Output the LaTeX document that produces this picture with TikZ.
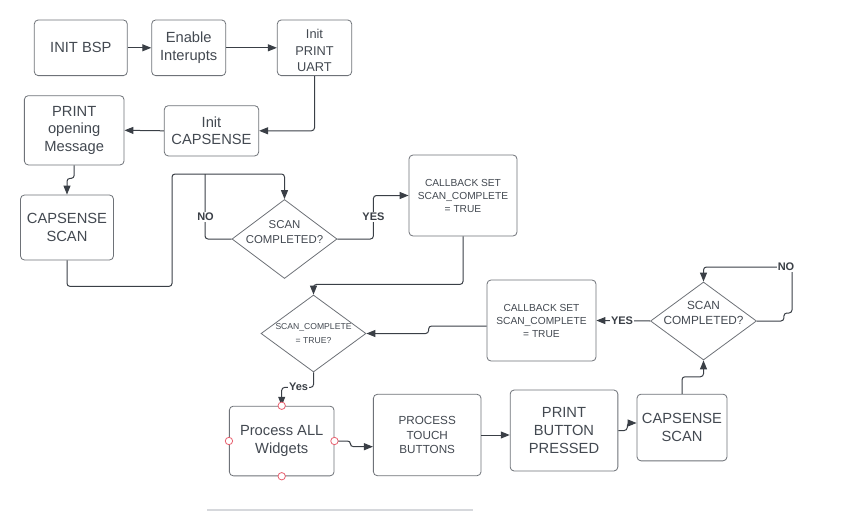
\documentclass[tikz,border=0pt]{standalone}
\usepackage{fontspec}
\setmainfont{Liberation Sans}
\usetikzlibrary{arrows.meta,shapes.geometric}
\definecolor{txt}{HTML}{434951}
\definecolor{boxgray}{HTML}{6E7278}
\definecolor{wirecol}{HTML}{3A3F46}
\definecolor{pinred}{HTML}{E8606F}
\definecolor{barcol}{HTML}{D6D8DC}
\begin{document}
\begin{tikzpicture}[x=1pt,y=-1pt,
  box/.style={draw=boxgray, line width=0.8pt, rounded corners=4pt, fill=white, text=txt, align=center, inner sep=0pt},
  dia/.style={draw=boxgray, line width=0.8pt, shape=diamond, inner sep=0pt, fill=white},
  dtext/.style={text=txt, align=center, inner sep=0pt},
  big/.style={font=\fontsize{14.7}{17.7}\selectfont},
  small/.style={font=\fontsize{10.2}{13}\selectfont},
  conn/.style={draw=wirecol, line width=1pt, rounded corners=3pt, -{Triangle[length=9pt,width=7pt]}},
  plain/.style={draw=wirecol, line width=1pt, rounded corners=3pt},
  lbl/.style={fill=white, text=wirecol, font=\bfseries\fontsize{11}{13}\selectfont, inner sep=0.8pt},
  pinc/.style={circle, draw=pinred, fill=white, line width=0.8pt, minimum size=7.4pt, inner sep=0pt}
]
\useasboundingbox (0,0) rectangle (854,511);

% top row
\node[box, big, minimum width=93pt, minimum height=55.7pt] (bsp) at (80.8,47.8) {INIT BSP};
\node[box, big, minimum width=74pt, minimum height=55.7pt] (en) at (188.7,47.8) {Enable\\Interupts};
\node[box, minimum width=74.4pt, minimum height=55.7pt] (uart) at (314.5,47.8) {};
\node[dtext, font=\fontsize{12.8}{16.2}\selectfont] (uartt) at ([yshift=-2.7pt]uart.center) {Init\\PRINT\\UART};
\node[box, big, minimum width=94.4pt, minimum height=50.3pt] (capinit) at (211.5,130.8) {Init\\CAPSENSE};
\node[box, big, minimum width=99.7pt, minimum height=69.3pt] (msg) at (74.2,130.3) {PRINT\\opening\\Message};
\node[box, big, minimum width=93pt, minimum height=65pt] (scan1) at (67,227.5) {CAPSENSE\\SCAN};

% diamond 1 and callback 1
\node[dia, minimum width=105pt, minimum height=79pt] (d1) at (284.5,239) {};
\node[dtext, font=\fontsize{11.4}{15}\selectfont] (d1t) at ([yshift=7pt]d1.center) {SCAN\\COMPLETED?};
\node[box, small, minimum width=108pt, minimum height=81pt] (cb1) at (463,195.5) {CALLBACK SET\\SCAN\_COMPLETE\\= TRUE};

% diamond 2, callback 2, diamond 3
\node[dia, minimum width=105pt, minimum height=77pt] (d2) at (313.5,333.5) {};
\node[dtext, font=\fontsize{8.6}{14}\selectfont] (d2t) at (d2.center) {SCAN\_COMPLETE\\= TRUE?};
\node[box, small, minimum width=109pt, minimum height=81pt] (cb2) at (541.5,320.5) {CALLBACK SET\\SCAN\_COMPLETE\\= TRUE};
\node[dia, minimum width=106pt, minimum height=78pt] (d3) at (703.5,321) {};
\node[dtext, font=\fontsize{11.8}{15}\selectfont] (d3t) at ([yshift=8pt]d3.center) {SCAN\\COMPLETED?};

% bottom row
\node[box, big, minimum width=104.7pt, minimum height=69.7pt] (pw) at (281.7,441) {Process ALL\\Widgets};
\node[box, font=\fontsize{11.7}{14.3}\selectfont, minimum width=107.7pt, minimum height=81.4pt] (pt) at (427.2,435) {PROCESS\\TOUCH\\BUTTONS};
\node[box, big, minimum width=107.7pt, minimum height=81pt] (pb) at (564,430.5) {PRINT\\BUTTON\\PRESSED};
\node[box, big, minimum width=90pt, minimum height=66.7pt] (scan2) at (682,427.5) {CAPSENSE\\SCAN};

% connectors
\draw[conn] (bsp.east) -- (en.west);
\draw[conn] (en.east) -- (uart.west);
\draw[conn] (uart.south) |- (capinit.east);
\draw[conn] (capinit.west) -- (msg.east);
\draw[conn] (msg.south) -- ++(0,13) -| (scan1.north);
\coordinate (j1) at (172,174);
\coordinate (j2) at (205,174);
\draw[conn] (scan1.south) -- ++(0,26) -| (j1) -| (d1.north);
\draw[plain] (d1.west) -| (j2);
\node[lbl] (no1) at (205.5,217) {NO};
\draw[conn] (d1.east) -- ++(36,0) |- (cb1.west);
\node[lbl] (yes1) at (373.5,217) {YES};
\draw[conn] (cb1.south) -- ++(0,48) -| (d2.north);
\draw[conn] ([yshift=-5.5pt]cb2.west) -- ++(-58,0) |- (d2.east);
\draw[conn] (d3.west) -- (cb2.east);
\node[lbl] (yes2) at (622,320.5) {YES};
\coordinate (c3) at (792,267);
\draw[conn] (d3.east) -- ++(27,0) -- ++(0,-8) -| (c3) -| (d3.north);
\node[lbl] (no2) at ([xshift=-6pt]c3) {NO};
\draw[conn] (scan2.north) -- ++(0,-17) -| (d3.south);
\draw[conn] (d2.south) -- ++(0,15) -| (pw.north);
\node[lbl] (yes3) at (298.5,387) {Yes};
\draw[conn] (pw.east) -- ++(16,0) |- ([yshift=-11.7pt]pt.west);
\draw[conn] (pt.east) -- (pt.east -| pb.west);
\draw[conn] (pb.east) -- ++(9,0) |- ([yshift=4.5pt]scan2.west);

% connection points
\foreach \a in {north,south,east,west} \node[pinc] (pw-\a) at (pw.\a) {};

% bottom bar
\draw[barcol, line width=2pt] (207,510) -- (473,510);
\end{tikzpicture}
\end{document}
